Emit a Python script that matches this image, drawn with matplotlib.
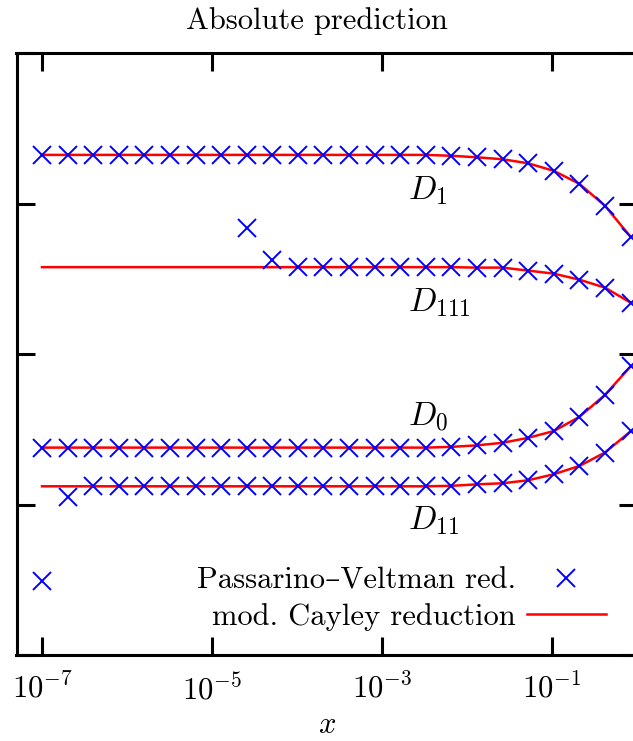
import numpy as np
import matplotlib.pyplot as plt

plt.rcParams['font.family'] = ['cmr10', 'DejaVu Serif']
plt.rcParams['mathtext.fontset'] = 'cm'
plt.rcParams['axes.formatter.use_mathtext'] = True
plt.rcParams['axes.unicode_minus'] = False

# x-Werte (Verdopplung ab 1e-7)
x = [1e-7, 2e-7, 4e-7, 8e-7, 1.6e-6, 3.2e-6, 6.4e-6, 1.28e-5, 2.56e-5, 5.12e-5,
     1.024e-4, 2.048e-4, 4.096e-4, 8.192e-4, 1.6384e-3, 3.2768e-3, 6.5536e-3,
     1.31072e-2, 2.62144e-2, 5.24288e-2, 0.1048576, 0.2097152, 0.4194304, 0.8388608]

nan = np.nan

# Passarino-Veltman Reduktion
pv_D1 = [3.323] * 16 + [3.317, 3.307, 3.294, 3.267, 3.217, 3.131, 2.985, 2.779]
pv_D111 = [nan] * 8 + [2.839, 2.625] + [2.577] * 7 + [2.574, 2.574, 2.554, 2.534, 2.494, 2.441, 2.342]
pv_D0 = [1.378] * 16 + [1.383, 1.393, 1.410, 1.443, 1.488, 1.582, 1.728, 1.917]
pv_D11 = [0.491, 1.048] + [1.121] * 14 + [1.124, 1.134, 1.141, 1.161, 1.201, 1.256, 1.345, 1.486]

# modifizierte Cayley Reduktion
cay_D1 = [3.323] * 16 + [3.317, 3.307, 3.294, 3.267, 3.217, 3.131, 2.985, 2.779]
cay_D111 = [2.577] * 17 + [2.574, 2.574, 2.554, 2.534, 2.494, 2.441, 2.342]
cay_D0 = [1.378] * 16 + [1.383, 1.393, 1.410, 1.443, 1.488, 1.582, 1.728, 1.917]
cay_D11 = [1.121] * 16 + [1.124, 1.134, 1.141, 1.161, 1.201, 1.256, 1.345, 1.486]

fig = plt.figure(figsize=(6.33, 7.41), dpi=100)
ax = fig.add_axes([16.5 / 633, 86 / 741, 620.5 / 633, 602 / 741])

for i, (pv, cay) in enumerate([(pv_D1, cay_D1), (pv_D111, cay_D111),
                               (pv_D0, cay_D0), (pv_D11, cay_D11)]):
    ax.plot(x, cay, color='red', lw=1.8,
            label='mod. Cayley reduction' if i == 0 else None, zorder=2)
    ax.plot(x, pv, ls='none', marker='x', ms=13, mew=1.4, color='blue',
            label='Passarino–Veltman red.' if i == 0 else None, zorder=3)

ax.set_xscale('log')
ax.set_xlim(10 ** -7.3, 1)
ax.set_ylim(0, 4)
ax.set_xticks([1e-7, 1e-5, 1e-3, 1e-1])
ax.set_xticks([], minor=True)
ax.set_yticks([0, 1, 2, 3, 4])
ax.set_yticklabels([])
fs = 22
ax.tick_params(which='both', direction='in', length=13, width=2.2, top=True, right=True,
               labelsize=fs, pad=13)
for s in ax.spines.values():
    s.set_linewidth(2.2)

# Beschriftungen der Kurven
fl = 24
ax.text(2.0e-3, 3.085, '$D_1$', fontsize=fl, va='center', ha='left')
ax.text(2.0e-3, 2.34, '$D_{111}$', fontsize=fl, va='center', ha='left')
ax.text(2.0e-3, 1.585, '$D_0$', fontsize=fl, va='center', ha='left')
ax.text(2.0e-3, 0.89, '$D_{11}$', fontsize=fl, va='center', ha='left')

h, l = ax.get_legend_handles_labels()
order = [1, 0]
ax.legend([h[i] for i in order], [l[i] for i in order], markerfirst=False, frameon=False,
          fontsize=fs, handlelength=2.6, handletextpad=0.36, labelspacing=0.25,
          loc='center right', bbox_to_anchor=(606 / 633, 1 - 599 / 741),
          bbox_transform=fig.transFigure, borderpad=0, borderaxespad=0)

ax.set_xlabel('$x$', fontsize=fs, labelpad=4)
fig.text(0.5, 1 - 21 / 741, 'Absolute prediction', fontsize=fs, ha='center', va='center')

fig.savefig('out.png', dpi=100)
